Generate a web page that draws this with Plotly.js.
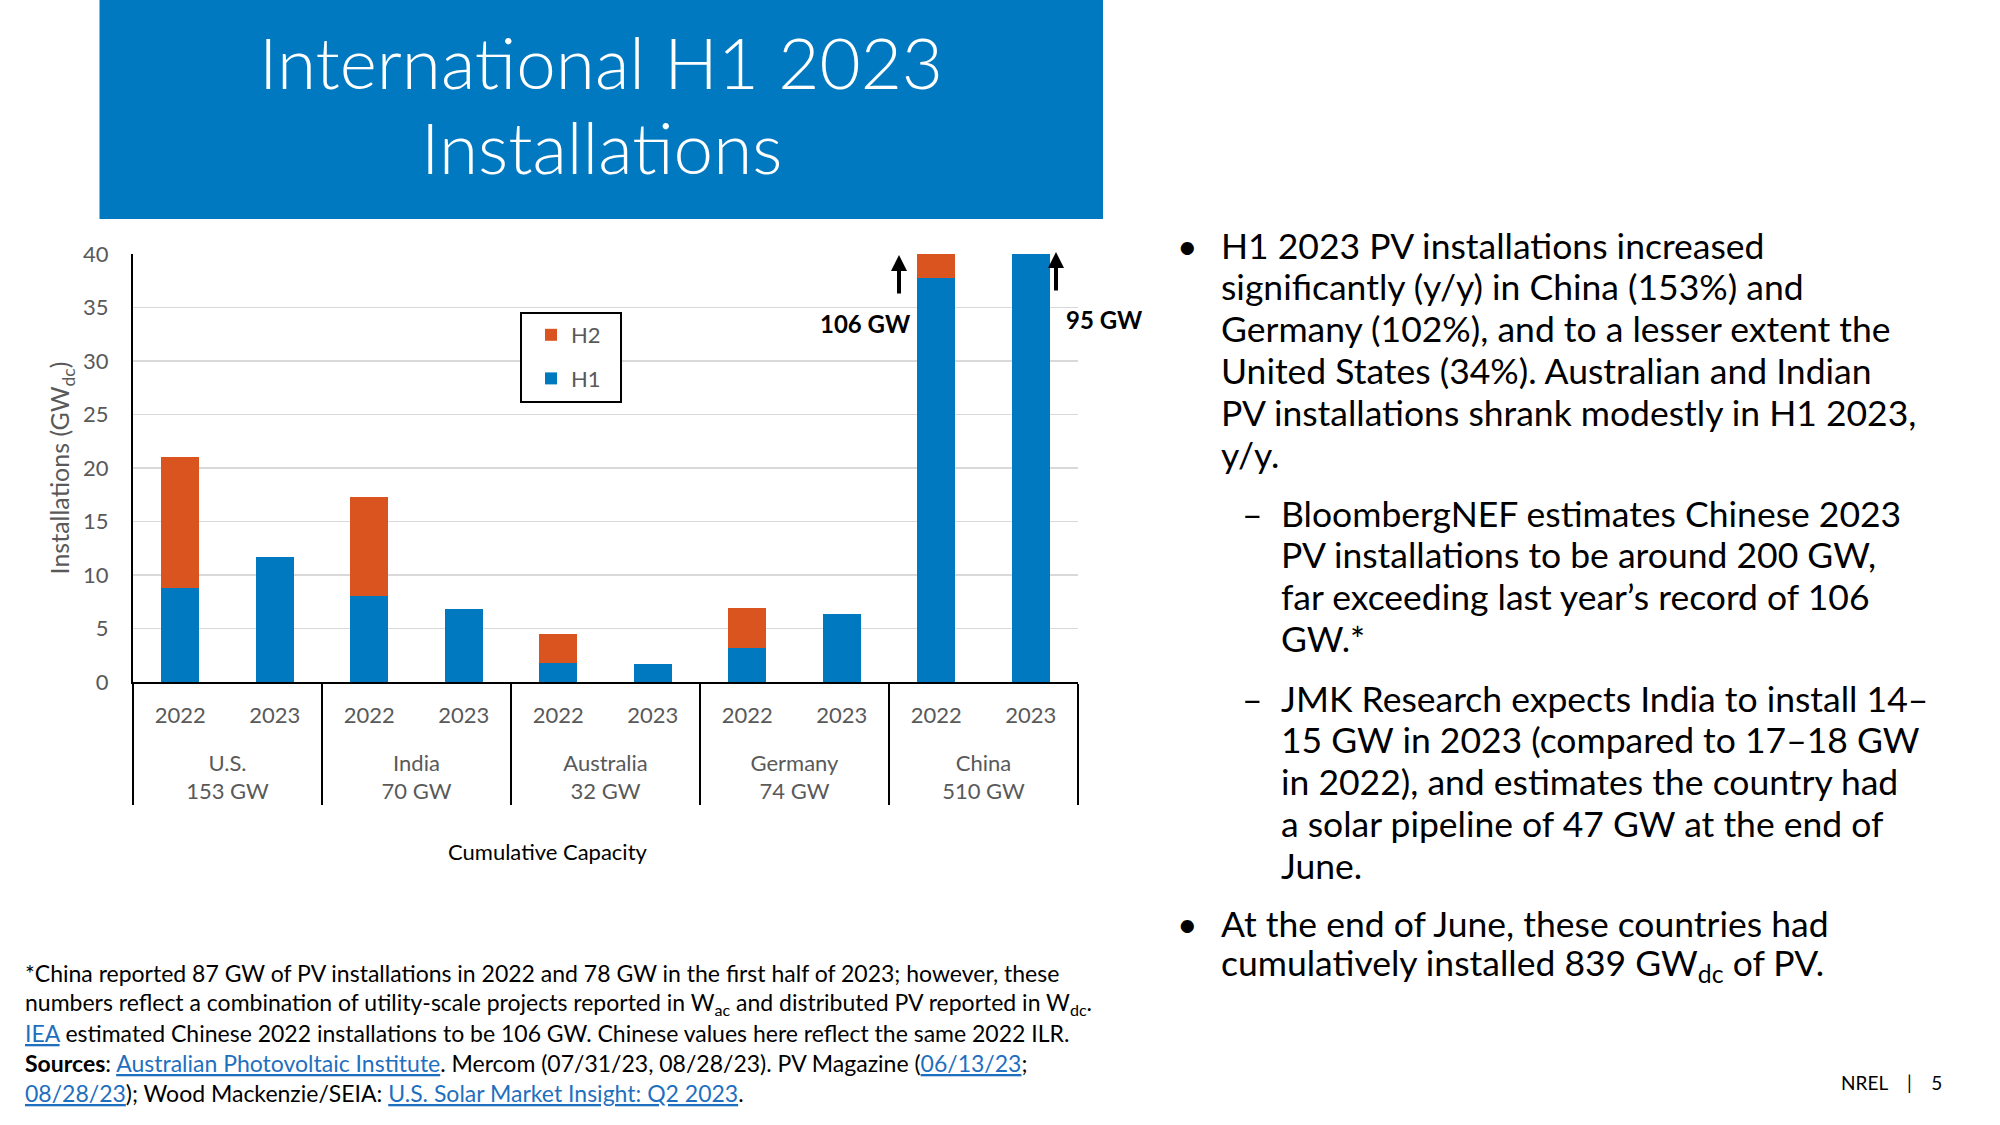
<!DOCTYPE html>
<html><head><meta charset="utf-8">
<script src="https://cdn.plot.ly/plotly-3.0.1.min.js"></script>
<style>html,body{margin:0;padding:0;background:#fff;}#chart{width:2000px;height:1125px;}</style>
</head><body><div id="chart"></div>
<script>
// ---- data ----
const countries = ['U.S.', 'India', 'Australia', 'Germany', 'China'];
const cumulativeCapacity = ['153 GW', '70 GW', '32 GW', '74 GW', '510 GW'];
const years = ['2022', '2023'];
const h1Values = [8.8, 11.7, 8.0, 6.8, 1.8, 1.7, 3.2, 6.4, 37.8, 95];
const h2Values = [12.2, null, 9.3, null, 2.7, null, 3.7, null, 68.2, null];
const yTickVals = [0, 5, 10, 15, 20, 25, 30, 35, 40];
const offscaleLabels = ['106 GW', '95 GW'];

const titleLines = ['International H1 2023', 'Installations'];
const bullet1Lines = ['H1 2023 PV installations increased', 'significantly (y/y) in China (153%) and', 'Germany (102%), and to a lesser extent the', 'United States (34%). Australian and Indian', 'PV installations shrank modestly in H1 2023,', 'y/y.'];
const sub1Lines = ['BloombergNEF estimates Chinese 2023', 'PV installations to be around 200 GW,', 'far exceeding last year\u2019s record of 106', 'GW.*'];
const sub2Lines = ['JMK Research expects India to install 14\u2013', '15 GW in 2023 (compared to 17\u201318 GW', 'in 2022), and estimates the country had', 'a solar pipeline of 47 GW at the end of', 'June.'];
const bullet2Lines = ['At the end of June, these countries had', 'cumulatively installed 839 GW<sub>dc</sub> of PV.'];

const LINK = '#1F6FBF';
const lk = t => '<span style="color:' + LINK + ';text-decoration:underline">' + t + '</span>';
const footLines = [
  '*China reported 87 GW of PV installations in 2022 and 78 GW in the first half of 2023; however, these',
  'numbers reflect a combination of utility-scale projects reported in W<sub>ac</sub> and distributed PV reported in W<sub>dc</sub>.',
  lk('IEA') + ' estimated Chinese 2022 installations to be 106 GW. Chinese values here reflect the same 2022 ILR.',
  '<b>Sources</b>: ' + lk('Australian Photovoltaic Institute') + '. Mercom (07/31/23, 08/28/23). PV Magazine (' + lk('06/13/23') + ';',
  lk('08/28/23') + '); Wood Mackenzie/SEIA: ' + lk('U.S. Solar Market Insight: Q2 2023') + '.'
];

// ---- build multicategory x ----
// (a blank second line under each year pushes the country labels lower, as in the reference)
const outer = [], inner = [];
countries.forEach((c, i) => years.forEach(y => { outer.push(c + '<br>' + cumulativeCapacity[i]); inner.push(y + '<br><sub>\u00A0</sub>'); }));

const FONT = 'Lato, "Open Sans", sans-serif';
const GRAY = '#595959';
const BLUE = '#0079C1';
const ORANGE = '#D9541E';

const traces = [
  {type: 'bar', name: 'H1', x: [outer, inner], y: h1Values, marker: {color: BLUE}, legendgroup: 'g1', legendrank: 2, hoverinfo: 'skip'},
  {type: 'bar', name: 'H2', x: [outer, inner], y: h2Values, marker: {color: ORANGE}, legendgroup: 'g2', legendrank: 1, hoverinfo: 'skip'}
];

// pixel -> paper helpers (plot area: x 133..1078, y 254..682)
const L = 133, R = 1078, T = 254, B = 682;
const X = px => (px - L) / (R - L);
const Y = py => (B - py) / (B - T);

const annotations = [];
function textLine(txt, x, y, size, opts) {
  annotations.push(Object.assign({
    text: txt, xref: 'paper', yref: 'paper', x: X(x), y: Y(y), xanchor: 'left', yanchor: 'middle',
    showarrow: false, font: {family: FONT, size: size, color: '#000'}
  }, opts || {}));
}

// second title line
textLine(titleLines[1], 601, 146, 71, {xanchor: 'center', font: {family: FONT, size: 71, weight: 300, color: '#fff'}});

// arrows for off-scale China bars
annotations.push({xref: 'paper', yref: 'paper', x: X(899), y: Y(255), ax: 0, ay: 40, text: '', showarrow: true,
  arrowhead: 2, arrowsize: 0.8, arrowwidth: 4, arrowcolor: '#000', standoff: 0});
annotations.push({xref: 'paper', yref: 'paper', x: X(1056), y: Y(252), ax: 0, ay: 40, text: '', showarrow: true,
  arrowhead: 2, arrowsize: 0.8, arrowwidth: 4, arrowcolor: '#000', standoff: 0});
textLine('<b>' + offscaleLabels[0] + '</b>', 913, 323, 24, {xanchor: 'right'});
textLine('<b>' + offscaleLabels[1] + '</b>', 1064, 319, 24);

// axis title drawn left of centre as in the reference
textLine('Cumulative Capacity', 548, 851, 22, {xanchor: 'center'});

// bullets
const STEP = 41.8, BFS = 35.5;
textLine('\u2022', 1175, 245, BFS);
bullet1Lines.forEach((t, i) => textLine(t, 1219, 245 + i * STEP, BFS));
textLine('\u2013', 1240, 513, BFS);
sub1Lines.forEach((t, i) => textLine(t, 1279, 513 + i * STEP, BFS));
textLine('\u2013', 1240, 698, BFS);
sub2Lines.forEach((t, i) => textLine(t, 1279, 698 + i * STEP, BFS));
textLine('\u2022', 1175, 923, BFS);
bullet2Lines.forEach((t, i) => textLine(t, 1219, 923 + i * STEP, BFS));

// footnote
footLines.forEach((t, i) => textLine(t, 23, 973 + i * 30, 23));

// page footer
textLine('NREL &nbsp; &nbsp;| &nbsp; &nbsp;5', 1839, 1082, 19);

const layout = {
  width: 2000, height: 1125,
  margin: {l: L, r: 2000 - R, t: T, b: 1125 - B, pad: 0},
  paper_bgcolor: '#fff', plot_bgcolor: '#fff',
  font: {family: FONT, color: GRAY},
  title: {text: titleLines[0], xref: 'container', yref: 'container',
    x: 601 / 2000, y: 1 - 64 / 1125, xanchor: 'center', yanchor: 'middle',
    font: {family: FONT, size: 71, weight: 300, color: '#fff'}},
  barmode: 'stack', bargap: 0.6,
  showlegend: true,
  legend: {x: X(531), y: Y(314), xanchor: 'left', yanchor: 'top', traceorder: 'grouped',
    tracegroupgap: 12, borderwidth: 0, bgcolor: 'rgba(0,0,0,0)',
    font: {family: FONT, size: 22, color: GRAY}, itemwidth: 30},
  xaxis: {type: 'multicategory', showdividers: true, dividercolor: '#000', dividerwidth: 2,
    showline: true, linecolor: '#000', linewidth: 2, ticks: '', showgrid: false, ticklabelstandoff: 13,
    tickfont: {family: FONT, size: 22, color: GRAY}},
  yaxis: {range: [0, 40], tickvals: yTickVals, showline: true, linecolor: '#000', linewidth: 2,
    showgrid: true, gridcolor: '#D9D9D9', gridwidth: 1.5, zeroline: false, ticks: '',
    tickfont: {family: FONT, size: 22, color: GRAY}, ticklabelstandoff: 18,
    title: {text: 'Installations (GW<sub>dc</sub>)', font: {family: FONT, size: 25, color: GRAY}, standoff: 6}},
  shapes: [
    {type: 'rect', xref: 'paper', yref: 'paper', x0: X(99.5), x1: X(1103), y0: Y(219), y1: Y(0),
      fillcolor: BLUE, line: {width: 0}, layer: 'below'},
    {type: 'rect', xref: 'paper', yref: 'paper', x0: X(521), x1: X(621), y0: Y(402), y1: Y(313),
      fillcolor: '#fff', line: {width: 2, color: '#000'}, layer: 'above'}
  ],
  annotations: annotations
};

Plotly.newPlot('chart', traces, layout, {displayModeBar: false, staticPlot: true});
</script>
</body></html>
